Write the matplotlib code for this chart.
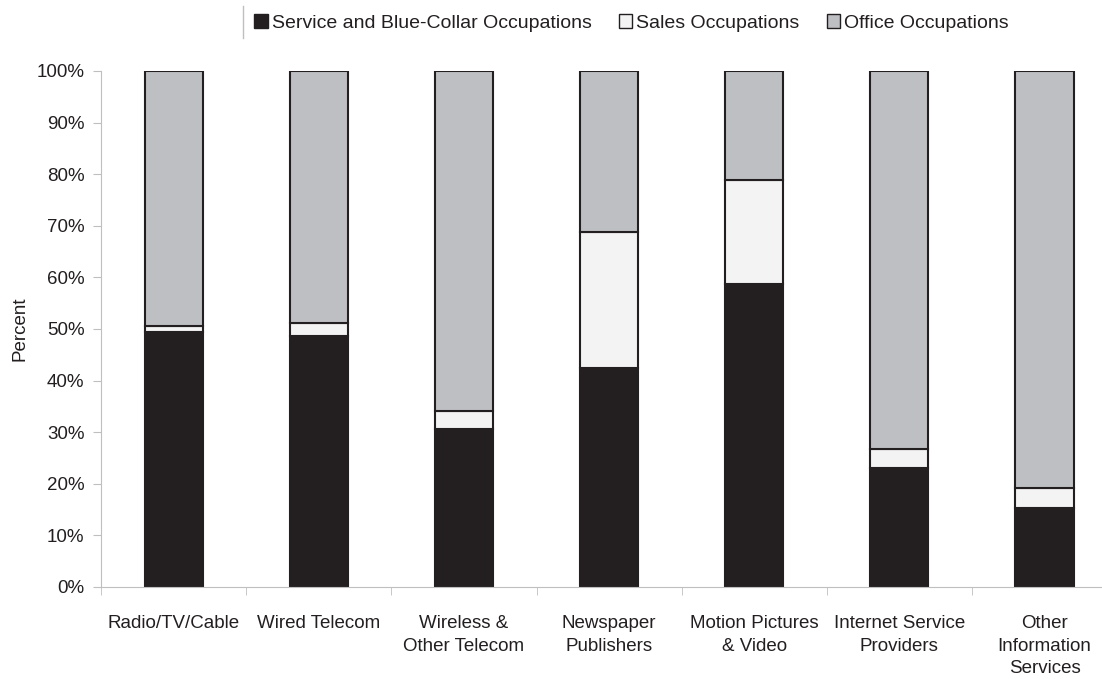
import matplotlib.pyplot as plt
import numpy as np
from matplotlib.lines import Line2D

plt.rcParams['font.family'] = ['Liberation Sans', 'DejaVu Sans']

categories = ["Radio/TV/Cable", "Wired Telecom", "Wireless &\nOther Telecom",
              "Newspaper\nPublishers", "Motion Pictures\n& Video",
              "Internet Service\nProviders", "Other\nInformation\nServices"]
service = [49.5, 48.6, 30.6, 42.4, 58.7, 23.0, 15.3]
sales_top = [50.6, 51.1, 34.1, 68.7, 78.9, 26.7, 19.2]
sales = [t - s for t, s in zip(sales_top, service)]
office = [100 - t for t in sales_top]

dark = "#231f20"
colors = [dark, "#f3f3f3", "#bebfc3"]
names = ["Service and Blue-Collar Occupations", "Sales Occupations", "Office Occupations"]

fig = plt.figure(figsize=(11.02, 6.79), dpi=100)
ax = fig.add_axes([0.0917, 0.1355, 0.922, 0.76])

x = np.arange(len(categories))
bottom = np.zeros(len(categories))
for vals, c, n in zip([service, sales, office], colors, names):
    ax.bar(x, vals, bottom=bottom, width=0.4, color=c, edgecolor=dark,
           linewidth=1.5, label=n)
    bottom += np.array(vals)

ax.set_xlim(-0.5, len(categories) - 0.5)
ax.set_ylim(0, 100)
ax.set_yticks(np.arange(0, 101, 10))
ax.set_yticklabels([f"{v}%" for v in range(0, 101, 10)])
ax.set_xticks(x)
ax.set_xticklabels(categories, linespacing=1.45, va="top")
ax.set_xticks(np.arange(-0.5, len(categories), 1), minor=True)
ax.tick_params(axis="x", which="major", length=0, pad=20, labelsize=13.5, colors=dark)
ax.tick_params(axis="x", which="minor", length=6, color="#bfbfbf")
ax.tick_params(axis="y", length=6, color="#bfbfbf", labelsize=13.5, labelcolor=dark, pad=6)
for s in ["top", "right"]:
    ax.spines[s].set_visible(False)
for s in ["left", "bottom"]:
    ax.spines[s].set_color("#bfbfbf")
ax.set_ylabel("Percent", fontsize=13.5, color=dark, labelpad=6)

leg = fig.legend(loc="center", bbox_to_anchor=(0.573, 0.966), ncol=3, frameon=False,
                 fontsize=14, handlelength=0.7, handleheight=0.7,
                 handletextpad=0.2, columnspacing=1.4, borderaxespad=0)
for t in leg.get_texts():
    t.set_color(dark)
for h in leg.legend_handles:
    h.set_linewidth(1.0)

fig.add_artist(Line2D([243 / 1102, 243 / 1102], [1 - 6 / 679, 1 - 38 / 679],
                      transform=fig.transFigure, color="#bfbfbf", linewidth=1))

fig.savefig("out.png", dpi=100)
